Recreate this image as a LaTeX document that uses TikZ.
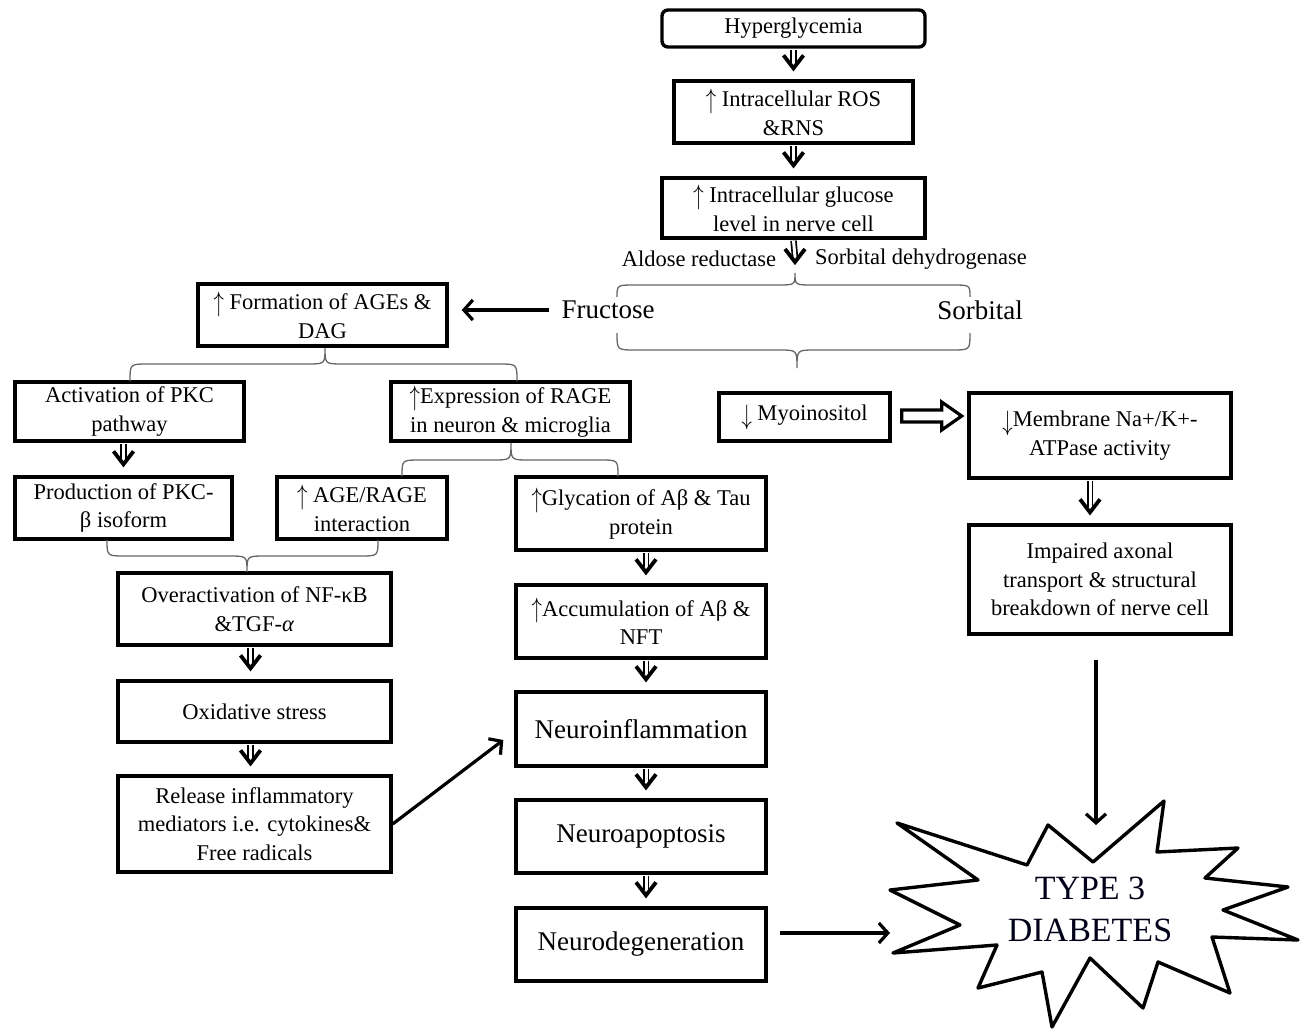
\documentclass[tikz,border=0pt]{standalone}
\usepackage{fontspec}
\setmainfont{Liberation Serif}
\usetikzlibrary{calc,arrows.meta}

\newcommand\darrow[2]{%
  \draw[dshaft] ($#1+(0,1)$) -- ($#2+(0,-16)$);
  \draw[dhead] ($#2+(-10,-24)$) -- ($#2+(0,-11)$) -- ($#2+(10,-24)$);
}
\newcommand\mybrace[7]{%
  \draw[brc] (#1,#3) .. controls (#1,#4) .. ({#1+#7},#4) -- ({#5-#7},#4)
    .. controls (#5,#4) .. (#5,#6) .. controls (#5,#4) .. ({#5+#7},#4)
    -- ({#2-#7},#4) .. controls (#2,#4) .. (#2,#3);
}
\newcommand\upa{\raisebox{-0.15ex}{\scalebox{1}[1.35]{$\uparrow$}}}
\newcommand\dna{\raisebox{-0.35ex}{\scalebox{1}[1.35]{$\downarrow$}}}

\begin{document}
\begin{tikzpicture}[x=1pt,y=-1pt,
  box/.style={draw, line width=3.4pt, align=center, inner sep=0pt,
    font=\fontsize{22.5}{28.5}\selectfont},
  lbl/.style={inner sep=0pt, font=\fontsize{22.5}{28}\selectfont},
  big/.style={font=\fontsize{27}{32}\selectfont},
  brc/.style={draw=black!60, line width=1.3pt},
  dshaft/.style={double, double distance=3pt, line width=1.7pt},
  dhead/.style={line width=3.8pt, line join=miter},
  arr/.style={line width=3.2pt, -{Straight Barb[length=9pt,width=20pt]}}
]
\useasboundingbox (0,0) rectangle (1309,1030);

% --- top chain
\node[box, rounded corners=6pt, minimum width=263pt, minimum height=37pt] (hyp) at (793.5,28.5) {Hyperglycemia};
\node[box, minimum width=239pt, minimum height=62pt] (ros) at (793.5,112) {\upa\ Intracellular ROS\\\&RNS};
\node[box, minimum width=263pt, minimum height=60pt] (glu) at (793.5,208) {\upa\ Intracellular glucose\\level in nerve cell};
\node[lbl] (ar) at (699,259) {Aldose reductase};
\node[lbl] (sd) at (921,259) {Sorbital dehydrogenase};
\coordinate (split) at (795,273);
\node[lbl, big] (fru) at (608,310) {Fructose};
\node[lbl, big] (sor) at (980,310) {Sorbital};

% --- left branch
\node[box, minimum width=249pt, minimum height=62pt] (ages) at (322.5,315) {\upa\ Formation of AGEs \&\\DAG};
\node[box, minimum width=229pt, minimum height=59pt] (pkc) at (129.5,411.5) {Activation of PKC\\pathway};
\node[box, minimum width=239pt, minimum height=59pt] (rage) at (510.5,411.5) {\upa Expression of RAGE\\in neuron \& microglia};
\node[box, minimum width=217pt, minimum height=62pt] (prod) at (123.5,508) {Production of PKC-\\β isoform};
\node[box, minimum width=170pt, minimum height=62pt] (agr) at (362,508) {\upa\ AGE/RAGE\\interaction};
\node[box, minimum width=273pt, minimum height=72pt] (nfkb) at (254.5,609) {Overactivation of NF-κB\\\&TGF-\textit{α}};
\node[box, minimum width=273pt, minimum height=61pt] (oxi) at (254.5,711.5) {Oxidative stress};
\node[box, minimum width=273pt, minimum height=96pt] (rel) at (254.5,824) {Release inflammatory\\mediators i.e. cytokines\&\\Free radicals};

% --- middle column
\node[box, minimum width=250pt, minimum height=73pt] (glyc) at (641,513.5) {\upa Glycation of Aβ \& Tau\\protein};
\node[box, minimum width=250pt, minimum height=73pt] (accu) at (641,621.5) {\upa Accumulation of Aβ \&\\NFT};
\node[box, big, minimum width=250pt, minimum height=74pt] (ninf) at (641,729) {Neuroinflammation};
\node[box, big, minimum width=250pt, minimum height=73pt] (napo) at (641,836.5) {Neuroapoptosis};
\node[box, big, minimum width=250pt, minimum height=73pt] (ndeg) at (641,944.5) {Neurodegeneration};

% --- right branch
\node[box, minimum width=171pt, minimum height=48pt] (myo) at (804.5,417) {\dna\ Myoinositol};
\node[box, minimum width=262pt, minimum height=85pt] (mem) at (1100,435.5) {\dna Membrane Na+/K+-\\ATPase activity};
\node[box, minimum width=262pt, minimum height=109pt] (imp) at (1100,579.5) {Impaired axonal\\transport \& structural\\breakdown of nerve cell};

% --- starburst
\draw[line width=3.4pt, line join=round]
  (897,823) -- (1027,865) -- (1048,825) -- (1093,862) -- (1164,801) -- (1157,852)
  -- (1238,848) -- (1205,878) -- (1288,887) -- (1223,910) -- (1298,940) -- (1212,937)
  -- (1230,993) -- (1158,962) -- (1143,1008) -- (1090,958) -- (1052,1027) -- (1042,972)
  -- (978,988) -- (997,945) -- (893,953) -- (960,925) -- (890,890) -- (978,880) -- cycle;
\node[inner sep=0pt, align=center, text=black!90!blue, font=\fontsize{34}{42}\selectfont] (t3) at (1090,909) {TYPE 3\\DIABETES};
\coordinate (starW) at (890,933);
\coordinate (starN) at (1096,825);

% --- braces
\mybrace{617}{970}{297}{285}{795}{273}{18}
\mybrace{617}{970}{333}{350}{797}{368}{18}
\mybrace{130}{517}{381}{364}{325}{348}{18}
\mybrace{402}{618}{476}{460}{511}{443}{18}
\mybrace{107}{378}{540}{556}{247}{572}{18}

% --- double arrows
\darrow{(hyp.south)}{(ros.north)}
\darrow{(ros.south)}{(glu.north)}
\darrow{(glu.south)}{(split)}
\darrow{(prod.north |- pkc.south)}{(prod.north)}
\darrow{([xshift=5pt]glyc.south)}{([xshift=5pt]accu.north)}
\darrow{([xshift=5pt]accu.south)}{([xshift=5pt]ninf.north)}
\darrow{([xshift=5pt]ninf.south)}{([xshift=5pt]napo.north)}
\darrow{([xshift=5pt]napo.south)}{([xshift=5pt]ndeg.north)}
\darrow{([xshift=-4pt]nfkb.south)}{([xshift=-4pt]oxi.north)}
\darrow{([xshift=-4pt]oxi.south)}{([xshift=-4pt]rel.north)}
\darrow{([xshift=-10pt]mem.south)}{([xshift=-10pt]imp.north)}

% --- hollow block arrow
\draw[line width=3.2pt, line join=miter]
  ($(myo.east)+(10,-7)$) -- ($(myo.east)+(50,-7)$) -- ($(myo.east)+(50,-15)$)
  -- ($(myo.east)+(70,-1)$) -- ($(myo.east)+(50,13)$) -- ($(myo.east)+(50,5)$)
  -- ($(myo.east)+(10,5)$) -- cycle;

% --- plain arrows
\draw[arr, shorten <=12pt, shorten >=13pt] (fru.west) -- (fru.west -| ages.east);
\draw[arr] (rel.east) -- ($(ninf.west)+(-11,11)$);
\draw[arr] ($(ndeg.east)+(12,-11.5)$) -- (starW);
\draw[arr] ($(imp.south)+(-4,24)$) -- (starN);
\end{tikzpicture}
\end{document}
